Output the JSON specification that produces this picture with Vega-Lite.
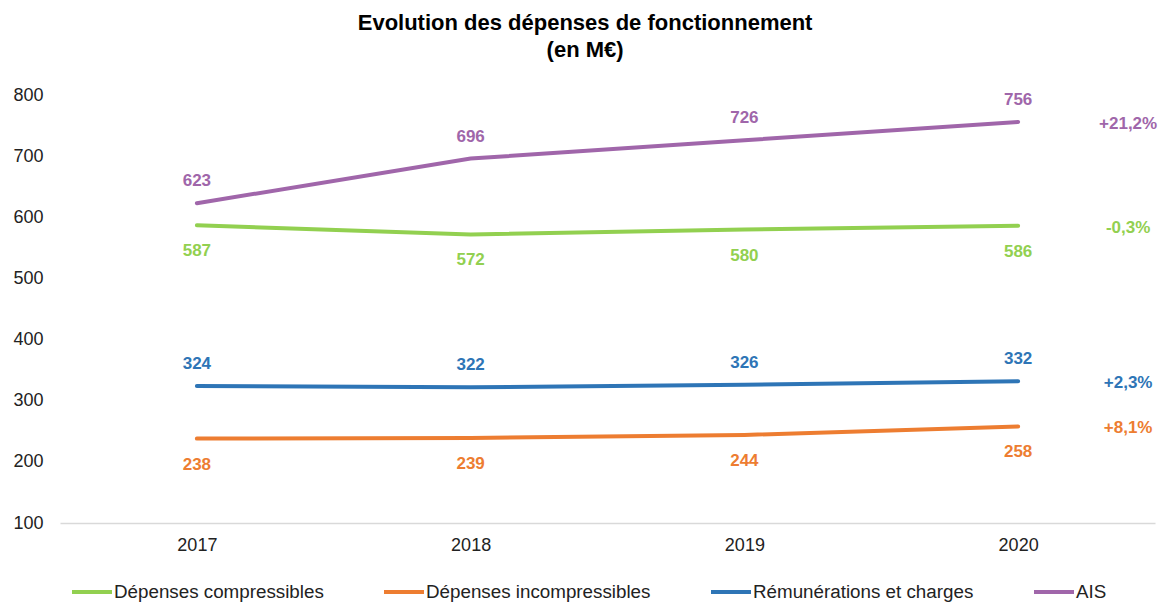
{
  "$schema": "https://vega.github.io/schema/vega-lite/v6.json",
  "autosize": "none",
  "width": 1095,
  "height": 428,
  "padding": {"left": 60, "top": 95, "right": 6, "bottom": 79},
  "background": "white",
  "config": {
    "font": "Liberation Sans",
    "view": {"stroke": null}
  },
  "title": {
    "text": ["Evolution des dépenses de fonctionnement", "(en M€)"],
    "fontSize": 22,
    "fontWeight": "bold",
    "color": "#000000",
    "anchor": "middle",
    "frame": "bounds",
    "offset": 24,
    "lineHeight": 27
  },
  "data": {
    "values": [
      {"serie": "Dépenses compressibles", "annee": "2017", "valeur": 587, "evol": "-0,3%"},
      {"serie": "Dépenses compressibles", "annee": "2018", "valeur": 572, "evol": "-0,3%"},
      {"serie": "Dépenses compressibles", "annee": "2019", "valeur": 580, "evol": "-0,3%"},
      {"serie": "Dépenses compressibles", "annee": "2020", "valeur": 586, "evol": "-0,3%"},
      {"serie": "Dépenses incompressibles", "annee": "2017", "valeur": 238, "evol": "+8,1%"},
      {"serie": "Dépenses incompressibles", "annee": "2018", "valeur": 239, "evol": "+8,1%"},
      {"serie": "Dépenses incompressibles", "annee": "2019", "valeur": 244, "evol": "+8,1%"},
      {"serie": "Dépenses incompressibles", "annee": "2020", "valeur": 258, "evol": "+8,1%"},
      {"serie": "Rémunérations et charges", "annee": "2017", "valeur": 324, "evol": "+2,3%"},
      {"serie": "Rémunérations et charges", "annee": "2018", "valeur": 322, "evol": "+2,3%"},
      {"serie": "Rémunérations et charges", "annee": "2019", "valeur": 326, "evol": "+2,3%"},
      {"serie": "Rémunérations et charges", "annee": "2020", "valeur": 332, "evol": "+2,3%"},
      {"serie": "AIS", "annee": "2017", "valeur": 623, "evol": "+21,2%"},
      {"serie": "AIS", "annee": "2018", "valeur": 696, "evol": "+21,2%"},
      {"serie": "AIS", "annee": "2019", "valeur": 726, "evol": "+21,2%"},
      {"serie": "AIS", "annee": "2020", "valeur": 756, "evol": "+21,2%"}
    ]
  },
  "encoding": {
    "x": {
      "field": "annee",
      "type": "ordinal",
      "scale": {"type": "point", "padding": 0.5},
      "axis": {
        "title": null,
        "labelAngle": 0,
        "labelFontSize": 18,
        "labelColor": "#222222",
        "labelPadding": 13,
        "ticks": false,
        "domainColor": "#d9d9d9",
        "domainWidth": 1.5
      }
    },
    "y": {
      "field": "valeur",
      "type": "quantitative",
      "scale": {"domain": [100, 800], "nice": false},
      "axis": {
        "title": null,
        "values": [100, 200, 300, 400, 500, 600, 700, 800],
        "grid": false,
        "domain": false,
        "ticks": false,
        "labelFontSize": 18,
        "labelColor": "#222222",
        "labelPadding": 17
      }
    },
    "color": {
      "field": "serie",
      "type": "nominal",
      "scale": {
        "domain": ["Dépenses compressibles", "Dépenses incompressibles", "Rémunérations et charges", "AIS"],
        "range": ["#92D050", "#ED7D31", "#2E75B6", "#A066AA"]
      },
      "legend": {
        "title": null,
        "orient": "none",
        "direction": "horizontal",
        "legendX": 10,
        "legendY": 475,
        "symbolType": "stroke",
        "symbolSize": 1600,
        "symbolStrokeWidth": 4,
        "labelFontSize": 18.8,
        "labelColor": "#222222",
        "labelOffset": 0,
        "columnPadding": 52,
        "labelLimit": 400
      }
    }
  },
  "layer": [
    {
      "mark": {"type": "line", "strokeWidth": 4, "strokeCap": "round"}
    },
    {
      "transform": [{"filter": "datum.serie === 'AIS' || datum.serie === 'Rémunérations et charges'"}],
      "mark": {"type": "text", "dy": -22, "fontSize": 17, "fontWeight": "bold"},
      "encoding": {"text": {"field": "valeur", "type": "quantitative"}}
    },
    {
      "transform": [{"filter": "datum.serie === 'Dépenses compressibles' || datum.serie === 'Dépenses incompressibles'"}],
      "mark": {"type": "text", "dy": 26, "fontSize": 17, "fontWeight": "bold"},
      "encoding": {"text": {"field": "valeur", "type": "quantitative"}}
    },
    {
      "transform": [{"filter": "datum.annee === '2020'"}],
      "mark": {"type": "text", "dx": 110, "dy": 2, "fontSize": 17, "fontWeight": "bold"},
      "encoding": {"text": {"field": "evol", "type": "nominal"}}
    }
  ]
}
